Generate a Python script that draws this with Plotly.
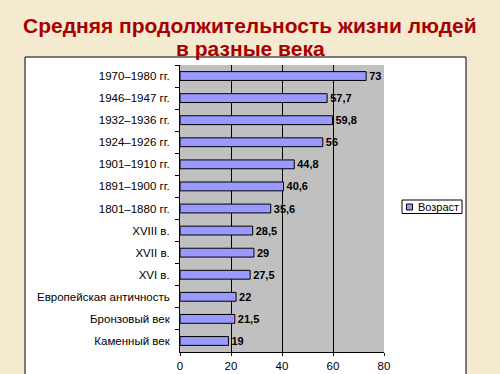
import plotly.graph_objects as go

categories = ["1970–1980 гг.", "1946–1947 гг.", "1932–1936 гг.", "1924–1926 гг.",
              "1901–1910 гг.", "1891–1900 гг.", "1801–1880 гг.", "XVIII в.",
              "XVII в.", "XVI в.", "Европейская античность", "Бронзовый век",
              "Каменный век"]
values = [73, 57.7, 59.8, 56, 44.8, 40.6, 35.6, 28.5, 29, 27.5, 22, 21.5, 19]
x_ticks = [0, 20, 40, 60, 80]
series_name = "Возраст"
title_lines = ["Средняя продолжительность жизни людей", "в разные века"]

labels = [f"{v:g}".replace(".", ",") for v in values]

FONT = "Liberation Sans, Arial, sans-serif"
BAR_COLOR = "#9999FF"

fig = go.Figure()
fig.add_trace(go.Bar(
    y=categories, x=values, orientation="h", name=series_name,
    marker=dict(color=BAR_COLOR, line=dict(color="#000000", width=1)),
    text=labels, textposition="outside", cliponaxis=False,
    constraintext="none",
    textfont=dict(family=FONT, size=11, color="#000000", weight="bold"),
    showlegend=False,
))

W, H = 500, 374
L, R, T, B = 180, 116, 65, 22
pw, ph = W - L - R, H - T - B

def px_x(p):
    return (p - L) / pw

def px_y(p):
    return (H - B - p) / ph

shapes = [
    dict(type="rect", xref="paper", yref="paper",
         x0=px_x(25), x1=px_x(466), y0=px_y(380), y1=px_y(57),
         fillcolor="#FFFFFF", line=dict(color="#000000", width=1), layer="below"),
    dict(type="rect", xref="paper", yref="paper",
         x0=0, x1=1, y0=0, y1=1,
         fillcolor="#C0C0C0", line=dict(width=0), layer="below"),
    # legend box
    dict(type="rect", xref="paper", yref="paper",
         x0=px_x(402), x1=px_x(462), y0=px_y(213.5), y1=px_y(200),
         fillcolor="#FFFFFF", line=dict(color="#000000", width=1), layer="above"),
    dict(type="rect", xref="paper", yref="paper",
         x0=px_x(406.5), x1=px_x(412.5), y0=px_y(210), y1=px_y(204),
         fillcolor=BAR_COLOR, line=dict(color="#000000", width=1), layer="above"),
]

title_y = [25, 48]
annotations = [
    dict(text="<b>" + line + "</b>", xref="paper", yref="paper",
         x=px_x(250), y=px_y(yy), xanchor="center", yanchor="middle",
         showarrow=False, font=dict(family=FONT, size=21, color="#A80000"))
    for line, yy in zip(title_lines, title_y)
]
annotations.append(
    dict(text=series_name, xref="paper", yref="paper",
         x=px_x(416), y=px_y(207), xanchor="left", yanchor="middle",
         showarrow=False, font=dict(family=FONT, size=11, color="#000000")))

fig.update_layout(
    width=W, height=H,
    margin=dict(l=L, r=R, t=T, b=B, pad=0),
    paper_bgcolor="#F4EAD0",
    plot_bgcolor="rgba(0,0,0,0)",
    bargap=0.6,
    font=dict(family=FONT, size=11, color="#000000"),
    showlegend=False,
    shapes=shapes,
    annotations=annotations,
)
fig.update_xaxes(range=[0, 80], tickvals=x_ticks, showgrid=True,
                 gridcolor="#000000", gridwidth=1, showline=True,
                 linecolor="#000000", linewidth=1, ticks="outside",
                 ticklen=3, tickcolor="#000000", zeroline=False,
                 ticklabelstandoff=0, automargin=False,
                 tickfont=dict(family=FONT, size=11.5))
fig.update_yaxes(autorange="reversed", showline=True, linecolor="#000000",
                 linewidth=1, ticks="outside", tickson="boundaries",
                 ticklen=4, tickcolor="#000000", showgrid=False,
                 ticklabelstandoff=7, automargin=False,
                 tickfont=dict(family=FONT, size=11.5))

fig.write_html("out.html")
